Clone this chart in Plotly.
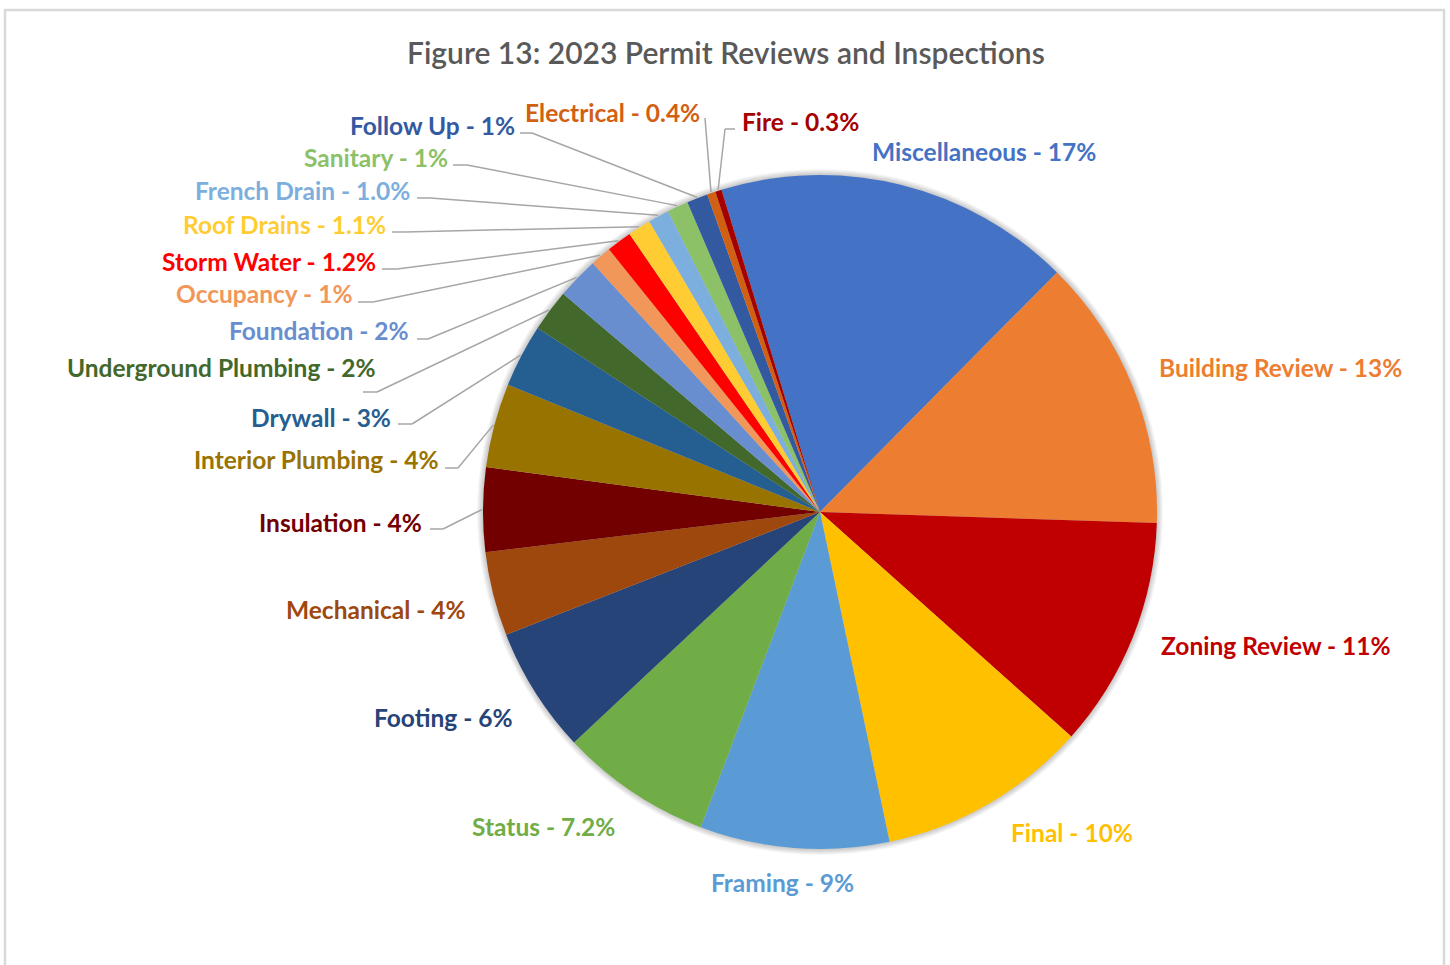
import math
import plotly.graph_objects as go

# 2023 permit reviews and inspections, share of total (%)
categories = ["Miscellaneous", "Building Review", "Zoning Review", "Final", "Framing",
              "Status", "Footing", "Mechanical", "Insulation", "Interior Plumbing",
              "Drywall", "Underground Plumbing", "Foundation", "Occupancy", "Storm Water",
              "Roof Drains", "French Drain", "Sanitary", "Follow Up", "Electrical", "Fire"]
shares = [17, 13, 11, 10, 9, 7.2, 6, 4, 4, 4, 3, 2, 2, 1, 1.2, 1.1, 1.0, 1, 1, 0.4, 0.3]
share_labels = ["17%", "13%", "11%", "10%", "9%", "7.2%", "6%", "4%", "4%", "4%", "3%",
                "2%", "2%", "1%", "1.2%", "1.1%", "1.0%", "1%", "1%", "0.4%", "0.3%"]

colors = ["#4472C4", "#ED7D31", "#C00000", "#FFC000", "#5B9BD5", "#70AD47", "#264478",
          "#9E480E", "#720000", "#997300", "#255E91", "#43682B", "#698ED0", "#F1975A",
          "#FF0000", "#FFCD33", "#7CAFDD", "#8CC168", "#335AA1", "#D26012", "#A50000"]

W, H = 1450, 965
CX, CY, R = 820, 512, 337      # pie centre and radius in pixels
ROTATION = -17

def px(x, y):
    return x / W, 1 - y / H

# label anchor (pixels) and horizontal alignment
label_pos = {
    "Miscellaneous": (870, 152, "left"),
    "Building Review": (1157, 368, "left"),
    "Zoning Review": (1159, 645, "left"),
    "Final": (1009, 832, "left"),
    "Framing": (782, 882, "center"),
    "Status": (617, 826, "right"),
    "Footing": (515, 717, "right"),
    "Mechanical": (468, 609, "right"),
    "Insulation": (424, 522, "right"),
    "Interior Plumbing": (441, 459, "right"),
    "Drywall": (393, 417, "right"),
    "Underground Plumbing": (378, 367, "right"),
    "Foundation": (411, 331, "right"),
    "Occupancy": (355, 294, "right"),
    "Storm Water": (378, 261, "right"),
    "Roof Drains": (388, 225, "right"),
    "French Drain": (412, 191, "right"),
    "Sanitary": (450, 157, "right"),
    "Follow Up": (517, 125, "right"),
    "Electrical": (702, 112, "right"),
    "Fire": (740, 122, "left"),
}

# leader line start points next to the labels (pixels)
leader_start = {
    "Follow Up": [(520, 133), (532, 133)],
    "Sanitary": [(453, 165), (467, 165)],
    "French Drain": [(417, 198), (430, 198)],
    "Roof Drains": [(392, 232), (405, 232)],
    "Storm Water": [(382, 269), (397, 269)],
    "Occupancy": [(358, 302), (373, 302)],
    "Foundation": [(417, 339), (428, 339)],
    "Underground Plumbing": [(363, 392), (377, 392)],
    "Drywall": [(398, 424), (412, 424)],
    "Interior Plumbing": [(445, 468), (458, 468)],
    "Insulation": [(430, 529), (443, 529)],
    "Electrical": [(705, 118)],
    "Fire": [(735, 129), (725, 129)],
}

fig = go.Figure()
fig.add_trace(go.Pie(
    labels=categories,
    values=shares,
    sort=False,
    direction="clockwise",
    rotation=ROTATION,
    marker=dict(colors=colors, line=dict(width=0)),
    textinfo="none",
    hoverinfo="label+percent",
    showlegend=False,
    domain=dict(x=[(CX - R) / W, (CX + R) / W], y=[1 - (CY + R) / H, 1 - (CY - R) / H]),
))

shapes = []
# soft shadow around the pie
for k in range(6, 0, -1):
    x0, y0 = px(CX - R - k, CY - R - k)
    x1, y1 = px(CX + R + k, CY + R + k)
    shapes.append(dict(type="circle", xref="paper", yref="paper", x0=x0, y0=y1, x1=x1, y1=y0,
                       fillcolor="rgba(0,0,0,0.035)", line=dict(width=0), layer="below"))

# chart border
shapes.append(dict(type="rect", xref="paper", yref="paper",
                   x0=5 / W, x1=1444 / W, y0=-0.02, y1=1 - 10 / H,
                   line=dict(color="#D9D9D9", width=2.5), fillcolor="rgba(0,0,0,0)"))

total = sum(shares)
cum = 0.0
annotations = []
for name, v, txt, col in zip(categories, shares, share_labels, colors):
    mid = math.radians(ROTATION + (cum + v / 2) * 360 / total)
    cum += v
    if name in leader_start:
        pts = leader_start[name] + [(CX + (R + 1) * math.sin(mid), CY - (R + 1) * math.cos(mid))]
        for (xa, ya), (xb, yb) in zip(pts[:-1], pts[1:]):
            a0, b0 = px(xa, ya)
            a1, b1 = px(xb, yb)
            shapes.append(dict(type="line", xref="paper", yref="paper", x0=a0, y0=b0, x1=a1, y1=b1,
                               line=dict(color="#A6A6A6", width=1.5)))
    lx, ly, anchor = label_pos[name]
    ax_, ay_ = px(lx, ly)
    annotations.append(dict(x=ax_, y=ay_, xref="paper", yref="paper", xanchor=anchor,
                            yanchor="middle", showarrow=False, text=f"<b>{name} - {txt}</b>",
                            font=dict(family="Lato", size=24.5, color=col)))

tx, ty = px(726, 52)
annotations.append(dict(x=tx, y=ty, xref="paper", yref="paper", xanchor="center", yanchor="middle",
                        showarrow=False, text="Figure 13: 2023 Permit Reviews and Inspections",
                        font=dict(family="Lato", size=30, color="#595959", weight=600)))

fig.update_layout(
    width=W, height=H,
    margin=dict(l=0, r=0, t=0, b=0),
    paper_bgcolor="white",
    plot_bgcolor="white",
    shapes=shapes,
    annotations=annotations,
)

fig.write_html("out.html")
